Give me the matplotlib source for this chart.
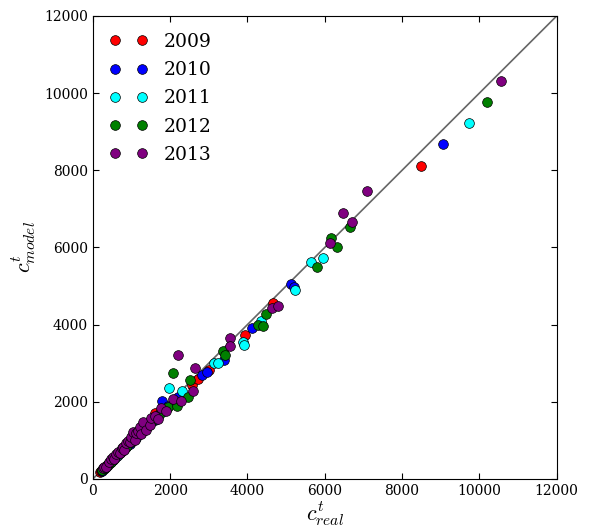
import matplotlib
matplotlib.use("Agg")
import matplotlib.pyplot as plt

plt.rcParams['font.family'] = 'serif'
plt.rcParams['font.serif'] = ['DejaVu Serif']
plt.rcParams['mathtext.fontset'] = 'cm'
plt.rcParams['xtick.direction'] = 'in'
plt.rcParams['ytick.direction'] = 'in'
plt.rcParams['xtick.top'] = True
plt.rcParams['ytick.right'] = True

years = ['2009', '2010', '2011', '2012', '2013']
colors = ['red', 'blue', 'cyan', 'green', 'purple']

# c_real / c_model per year
real_2009 = [190, 210, 260, 320, 380, 450, 520, 610, 700, 800, 900, 1000, 1120,
             1250, 1400, 1540, 1621, 1750, 2100, 2578, 2723, 3000, 3948, 4655, 8482]
model_2009 = [190, 195, 250, 300, 360, 430, 500, 590, 680, 770, 880, 960, 1090,
              1200, 1380, 1500, 1720, 1700, 2050, 2446, 2584, 2825, 3741, 4562, 8121]

real_2010 = [230, 300, 370, 440, 530, 620, 720, 830, 950, 1060, 1180, 1300, 1450,
             1600, 1784, 1950, 2200, 2827, 2948, 3398, 4120, 5128, 5215, 9059]
model_2010 = [200, 270, 340, 420, 500, 600, 690, 800, 910, 1020, 1130, 1250, 1400,
              1540, 2020, 1880, 2120, 2704, 2773, 3077, 3906, 5054, 4984, 8675]

real_2011 = [250, 330, 400, 480, 570, 660, 760, 870, 990, 1110, 1230, 1301, 1450,
             1620, 1800, 1965, 2320, 3129, 3240, 3888, 3912, 4345, 5232, 5655,
             5956, 9723]
model_2011 = [230, 300, 380, 450, 540, 630, 730, 830, 950, 1060, 1180, 1350, 1390,
              1560, 1740, 2359, 2281, 3015, 3015, 3559, 3473, 4095, 4891, 5625,
              5720, 9235]

real_2012 = [240, 310, 390, 470, 560, 650, 750, 860, 980, 1100, 1220, 1350, 1500,
             1700, 1955, 2180, 2087, 2472, 2508, 3370, 3413, 4275, 4404, 4492,
             5801, 6155, 6310, 6655, 10197]
model_2012 = [220, 290, 370, 450, 540, 640, 730, 840, 960, 1070, 1200, 1330, 1470,
              1660, 1874, 1892, 2755, 2133, 2566, 3325, 3214, 3992, 3966, 4277,
              5488, 6255, 6022, 6541, 9780]

real_2013 = [266, 300, 354, 420, 480, 525, 560, 600, 650, 698, 750, 784, 820,
             869, 900, 957, 1000, 1043, 1086, 1130, 1160, 1215, 1250, 1302, 1388,
             1474, 1517, 1600, 1680, 1776, 1906, 2076, 2294, 2198, 2594, 2646,
             3543, 3543, 4647, 4793, 6129, 6473, 6706, 7086, 10569]
model_2013 = [277, 320, 319, 430, 520, 578, 530, 640, 700, 666, 790, 837, 760,
              925, 980, 967, 1100, 1227, 1011, 1184, 1240, 1356, 1170, 1486, 1270,
              1400, 1573, 1620, 1560, 1833, 1762, 2066, 2030, 3206, 2289, 2868,
              3647, 3455, 4425, 4484, 6126, 6895, 6653, 7473, 10308]

reals = [real_2009, real_2010, real_2011, real_2012, real_2013]
models = [model_2009, model_2010, model_2011, model_2012, model_2013]

fig = plt.figure(figsize=(5.91, 5.31), dpi=100)
ax = fig.add_axes([0.157, 0.098, 0.785, 0.872])

ax.plot([0, 12000], [0, 12000], '-', color='0.4', lw=1.2, zorder=1)
for yr, c, xr, ym in zip(years, colors, reals, models):
    ax.plot(xr, ym, 'o', color=c, mec='black', mew=0.5, ms=7, label=yr, zorder=2)

ax.set_xlim(0, 12000)
ax.set_ylim(0, 12000)
ax.set_xticks(range(0, 12001, 2000))
ax.set_yticks(range(0, 12001, 2000))
ax.tick_params(labelsize=10, length=4)
ax.set_xlabel(r'$c^t_{real}$', fontsize=16, labelpad=1)
ax.set_ylabel(r'$c^t_{model}$', fontsize=16, labelpad=4)
ax.legend(loc='upper left', numpoints=2, frameon=False, fontsize=13.5,
          handlelength=2.0, handletextpad=0.9, labelspacing=0.55,
          borderaxespad=0.5)

fig.savefig('out.png', dpi=100)
